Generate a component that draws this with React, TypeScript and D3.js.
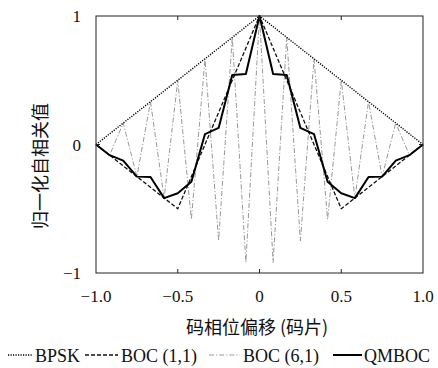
import React from "react";
import * as d3 from "d3";

// Code phase offsets (chips), sampled every 1/12 chip from -1 to 1
const OFFSETS = d3.range(-12, 13).map((k) => k / 12);

// Normalised autocorrelation values at each offset
const BPSK = [0, 0.083, 0.167, 0.25, 0.333, 0.417, 0.5, 0.583, 0.667, 0.75, 0.833, 0.917, 1,
  0.917, 0.833, 0.75, 0.667, 0.583, 0.5, 0.417, 0.333, 0.25, 0.167, 0.083, 0];
const BOC11 = [0, -0.083, -0.167, -0.25, -0.333, -0.417, -0.5, -0.25, 0, 0.25, 0.5, 0.75, 1,
  0.75, 0.5, 0.25, 0, -0.25, -0.5, -0.417, -0.333, -0.25, -0.167, -0.083, 0];
const BOC61 = [0, -0.083, 0.167, -0.25, 0.333, -0.417, 0.5, -0.583, 0.667, -0.75, 0.833, -0.917, 1,
  -0.917, 0.833, -0.75, 0.667, -0.583, 0.5, -0.417, 0.333, -0.25, 0.167, -0.083, 0];
const QMBOC = [0, -0.083, -0.126, -0.25, -0.253, -0.417, -0.379, -0.29, 0.081, 0.129, 0.54, 0.548, 1,
  0.548, 0.54, 0.129, 0.081, -0.29, -0.379, -0.417, -0.253, -0.25, -0.126, -0.083, 0];

const X_TICKS = [-1, -0.5, 0, 0.5, 1];
const X_TICK_LABELS = ["\u22121.0", "\u22120.5", "0", "0.5", "1.0"];
const Y_TICKS = [-1, 0, 1];
const Y_TICK_LABELS = ["\u22121", "0", "1"];

const X_TITLE = "码相位偏移 (码片)";
const Y_TITLE = "归一化自相关值";

const SERIES_NAMES = ["BPSK", "BOC (1,1)", "BOC (6,1)", "QMBOC"];

const W = 438;
const H = 368;
const LEFT = 96;
const RIGHT = 423;
const TOP = 16;
const BOTTOM = 273;

const SERIF = "'Liberation Serif', 'DejaVu Serif', serif";
const CJK = "'Noto Sans CJK SC', sans-serif";

const styles = [
  { stroke: "#000", width: 1.4, dash: "1.2,1.3" },
  { stroke: "#111", width: 1.3, dash: "4,2" },
  { stroke: "#999", width: 1, dash: "5,2,1.2,2" },
  { stroke: "#000", width: 2, dash: undefined as string | undefined },
];

const serifStyle = (size: number): React.CSSProperties => ({
  fontFamily: SERIF,
  fontSize: `${size}px`,
});

export default function App() {
  const x = d3.scaleLinear().domain([-1, 1]).range([LEFT, RIGHT]);
  const y = d3.scaleLinear().domain([-1, 1]).range([BOTTOM, TOP]);
  const line = d3
    .line<number>()
    .x((_, i) => x(OFFSETS[i]))
    .y((v) => y(v));

  const series = [BPSK, BOC11, BOC61, QMBOC];
  // draw order: gray underneath, then BPSK, BOC(1,1), QMBOC on top
  const order = [2, 0, 1, 3];

  const legendItems = [
    { sx: 8, ex: 33, tx: 35 },
    { sx: 85, ex: 118, tx: 121 },
    { sx: 209, ex: 240, tx: 243 },
    { sx: 333, ex: 362, tx: 364 },
  ];
  const legendY = 362;

  return (
    <svg
      width={W}
      height={H}
      style={{ position: "absolute", left: 0, top: 0, background: "#fff" }}
    >
      <rect x={0} y={0} width={W} height={H} fill="#fff" />

      {order.map((si) => (
        <path
          key={si}
          d={line(series[si]) ?? ""}
          fill="none"
          stroke={styles[si].stroke}
          strokeWidth={styles[si].width}
          strokeDasharray={styles[si].dash}
          strokeLinejoin="round"
        />
      ))}

      {/* frame */}
      <rect
        x={LEFT}
        y={TOP}
        width={RIGHT - LEFT}
        height={BOTTOM - TOP}
        fill="none"
        stroke="#222"
        strokeWidth={1}
      />

      {/* inward ticks */}
      {X_TICKS.slice(1, -1).map((t) => (
        <g key={"xt" + t} stroke="#222" strokeWidth={1}>
          <line x1={x(t)} x2={x(t)} y1={BOTTOM} y2={BOTTOM - 4} />
          <line x1={x(t)} x2={x(t)} y1={TOP} y2={TOP + 4} />
        </g>
      ))}
      {Y_TICKS.slice(1, -1).map((t) => (
        <g key={"yt" + t} stroke="#222" strokeWidth={1}>
          <line x1={LEFT} x2={LEFT + 4} y1={y(t)} y2={y(t)} />
          <line x1={RIGHT} x2={RIGHT - 4} y1={y(t)} y2={y(t)} />
        </g>
      ))}

      {/* tick labels */}
      {X_TICKS.map((t, i) => (
        <text
          key={"xl" + t}
          x={x(t)}
          y={302}
          textAnchor="middle"
          style={serifStyle(17)}
          fill="#111"
        >
          {X_TICK_LABELS[i]}
        </text>
      ))}
      {Y_TICKS.map((t, i) => (
        <text
          key={"yl" + t}
          x={81}
          y={y(t) + 6}
          textAnchor="end"
          style={serifStyle(17)}
          fill="#111"
        >
          {Y_TICK_LABELS[i]}
        </text>
      ))}

      {/* axis titles */}
      <text
        x={257}
        y={334}
        textAnchor="middle"
        style={{ fontFamily: CJK, fontSize: "18px" }}
        fill="#111"
      >
        {X_TITLE}
      </text>
      <text
        transform={`translate(47,166) rotate(-90)`}
        textAnchor="middle"
        style={{ fontFamily: CJK, fontSize: "18px" }}
        fill="#111"
      >
        {Y_TITLE}
      </text>

      {/* legend */}
      {legendItems.map((it, i) => (
        <g key={"lg" + i}>
          <line
            x1={it.sx}
            x2={it.ex}
            y1={legendY - 7}
            y2={legendY - 7}
            stroke={styles[i].stroke}
            strokeWidth={styles[i].width}
            strokeDasharray={styles[i].dash}
          />
          <text x={it.tx} y={legendY} style={serifStyle(18)} fill="#111">
            {SERIES_NAMES[i]}
          </text>
        </g>
      ))}
    </svg>
  );
}
